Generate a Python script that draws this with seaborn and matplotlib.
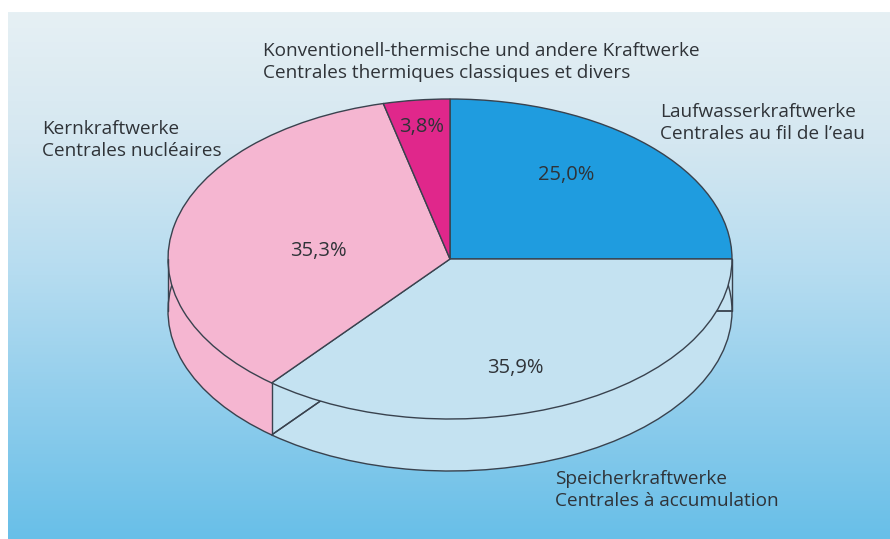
import numpy as np
import seaborn as sns
import matplotlib.pyplot as plt

# --- chart data ---
shares = [25.0, 35.9, 35.3, 3.8]
labels_de = ["Laufwasserkraftwerke", "Speicherkraftwerke", "Kernkraftwerke",
             "Konventionell-thermische und andere Kraftwerke"]
labels_fr = ["Centrales au fil de l\u2019eau", "Centrales à accumulation", "Centrales nucléaires",
             "Centrales thermiques classiques et divers"]
slice_colors = ["#1f9cdf", "#c4e2f1", "#f5b6d1", "#e0278b"]
label_xy = [(660, 123), (555, 490), (42, 140), (263, 62)]
value_xy = [(566, 175), (515, 368), (318, 251), (422, 127)]

W, H = 890, 539
CX, CY = 450, 259    # centre of the top face
RX, RY = 282, 160
DEPTH = 52
LINE = "#39424e"
TEXT = "#2f3338"

sns.set_theme(style="white")
plt.rcParams["font.family"] = ["Open Sans", "DejaVu Sans"]

fig = plt.figure(figsize=(W / 100, H / 100), dpi=100, facecolor="white")

# background panel with the vertical blue gradient
bg = fig.add_axes([8 / W, 0, 1 - 8 / W, 1 - 12 / H])
cmap = sns.blend_palette(["#e6f0f4", "#d4e7f1", "#b5dcf0", "#8fcdec", "#68bfe8"], n_colors=256, as_cmap=True)
bg.imshow(np.linspace(0, 1, 256)[:, None], aspect="auto", cmap=cmap)
bg.axis("off")

# pie axes: one data unit is one radius, squashed by the axis limits
ax = fig.add_axes([0, 0, 1, 1])
ax.patch.set_visible(False)

# side wall, deepest layer first
for off in np.arange(DEPTH, 0, -1.0):
    ax.pie(shares, colors=slice_colors, startangle=90, counterclock=False,
           center=(0, -off / RY), wedgeprops=dict(linewidth=0))

# outline of the bottom face
ax.pie(shares, colors=["none"] * 4, startangle=90, counterclock=False,
       center=(0, -DEPTH / RY), wedgeprops=dict(linewidth=1.0, edgecolor=LINE))

# top face
ax.pie(shares, colors=slice_colors, startangle=90, counterclock=False,
       wedgeprops=dict(linewidth=1.0, edgecolor=LINE))

# vertical edges: the two tangents and the visible slice border
corner = np.deg2rad(90 - (shares[0] + shares[1]) * 3.6)
for x, y in [(-1, 0), (1, 0), (np.cos(corner), np.sin(corner))]:
    ax.plot([x, x], [y, y - DEPTH / RY], color=LINE, lw=1.0)

ax.set_aspect("auto")
ax.set_xlim(-CX / RX, (W - CX) / RX)
ax.set_ylim(-(H - CY) / RY, CY / RY)


def to_fig(x, y):
    return x / W, 1 - y / H


for (x, y), de, fr in zip(label_xy, labels_de, labels_fr):
    fig.text(*to_fig(x, y), de + "\n" + fr, color=TEXT, fontsize=13.7,
             ha="left", va="center", linespacing=1.22)

for (x, y), v in zip(value_xy, shares):
    fig.text(*to_fig(x, y), f"{v:.1f}".replace(".", ",") + "%", color=TEXT, fontsize=14.5,
             ha="center", va="center")

fig.savefig("out.png", dpi=100)
